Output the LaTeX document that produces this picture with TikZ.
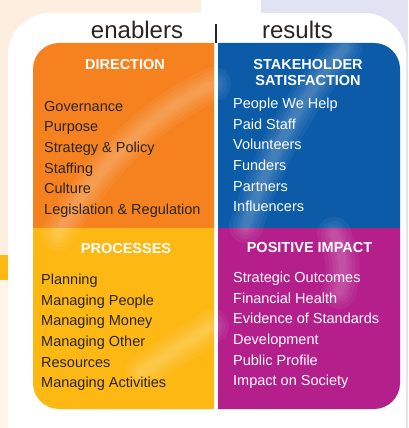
\documentclass[tikz,border=0pt]{standalone}
\usepackage{fontspec}
\setmainfont{Liberation Sans}
\usetikzlibrary{positioning}
\definecolor{DirOrange}{HTML}{F5821F}
\definecolor{StkBlue}{HTML}{0B5BA9}
\definecolor{ProcYellow}{HTML}{FDB813}
\definecolor{ImpMagenta}{HTML}{B41F8C}
\definecolor{InkDark}{HTML}{2A2522}
\definecolor{BgPeach}{HTML}{FDEEDF}
\definecolor{BgCream}{HTML}{FEF5E7}
\definecolor{BgLilac}{HTML}{E1E3F2}

\begin{document}
\begin{tikzpicture}[x=1pt, y=-1pt,
  sidelbl/.style = {font=\fontsize{24}{28}\selectfont, text=InkDark, anchor=base, inner sep=0pt},
  qhead/.style   = {font=\fontsize{14.5}{16.5}\selectfont\bfseries, text=white, anchor=base, inner sep=0pt},
  item/.style    = {font=\fontsize{14.5}{17}\selectfont, anchor=base west, inner sep=0pt},
  itemD/.style   = {item, text=InkDark},
  itemL/.style   = {item, text=white},
  sheen/.style   = {white, line cap=round, opacity=0.05}
]
\useasboundingbox (0,0) rectangle (408,428);
\clip (0,0) rectangle (408,428);

% Page background and white card
\fill[BgPeach] (0,0) rectangle (201,255);
\fill[ProcYellow] (0,255) rectangle (8,280);
\fill[BgCream] (0,280) rectangle (201,428);
\fill[BgLilac] (261,0) rectangle (408,428);
\fill[white, rounded corners=42pt] (8,13) rectangle (406,470);

% Quadrants (only the outer corner is rounded)
\begin{scope}
  \clip (33,43) rectangle (214,228);
  \fill[DirOrange, rounded corners=26pt] (33,43) rectangle (300,300);
\end{scope}
\begin{scope}
  \clip (218,43) rectangle (400,228);
  \fill[StkBlue, rounded corners=26pt] (120,43) rectangle (400,300);
\end{scope}
\begin{scope}
  \clip (33,228) rectangle (214,409);
  \fill[ProcYellow, rounded corners=26pt] (33,150) rectangle (300,409);
\end{scope}
\begin{scope}
  \clip (218,228) rectangle (400,409);
  \fill[ImpMagenta, rounded corners=26pt] (120,150) rectangle (400,409);
\end{scope}

% Glossy streaks, built up from soft layers
\begin{scope}
  \clip[rounded corners=26pt] (33,43) rectangle (400,409);
  \foreach \w in {34,26,19,13,8} {
    \draw[sheen, line width=\w pt] (58,234) .. controls (95,170) and (150,112) .. (214,84);
    \draw[sheen, line width=\w pt] (246,226) .. controls (268,160) and (298,100) .. (345,48);
    \draw[sheen, line width=\w pt] (334,234) .. controls (344,255) and (345,275) .. (339,292);
    \draw[sheen, line width=\w pt] (142,372) .. controls (165,356) and (190,341) .. (212,326);
  }
\end{scope}

% Column headers
\node[sidelbl] (enablers) at (137,38) {enablers};
\node[sidelbl] (results) at (297.5,38) {results};
\coordinate (sep-top) at (215.5,24);
\coordinate (sep-bot) at (215.5,43);
\draw[InkDark, line width=2pt] (sep-top) -- (sep-bot);

% Quadrant titles
\node[qhead] (dir-head) at (125,70) {DIRECTION};
\node[qhead] (stk-head1) at (308,69.3) {STAKEHOLDER};
\node[qhead] (stk-head2) at (308,85.7) {SATISFACTION};
\node[qhead] (proc-head) at (126,253.3) {PROCESSES};
\node[qhead] (imp-head) at (309.5,252.7) {POSITIVE IMPACT};

% Enablers
\foreach \n/\txt in {0/Governance, 1/Purpose, 2/Strategy \& Policy, 3/Staffing,
                     4/Culture, 5/Legislation \& Regulation}
  \node[itemD] (dir-\n) at (44, 111+\n*20.7) {\txt};
\foreach \n/\txt in {0/Planning, 1/Managing People, 2/Managing Money,
                     3/Managing Other, 4/Resources, 5/Managing Activities}
  \node[itemD] (proc-\n) at (41, 284.3+\n*20.7) {\txt};

% Results
\foreach \n/\txt in {0/People We Help, 1/Paid Staff, 2/Volunteers, 3/Funders,
                     4/Partners, 5/Influencers}
  \node[itemL] (stk-\n) at (233, 108.3+\n*20.7) {\txt};
\foreach \n/\txt in {0/Strategic Outcomes, 1/Financial Health, 2/Evidence of Standards,
                     3/Development, 4/Public Profile, 5/Impact on Society}
  \node[itemL] (imp-\n) at (233, 282.3+\n*20.7) {\txt};
\end{tikzpicture}
\end{document}
